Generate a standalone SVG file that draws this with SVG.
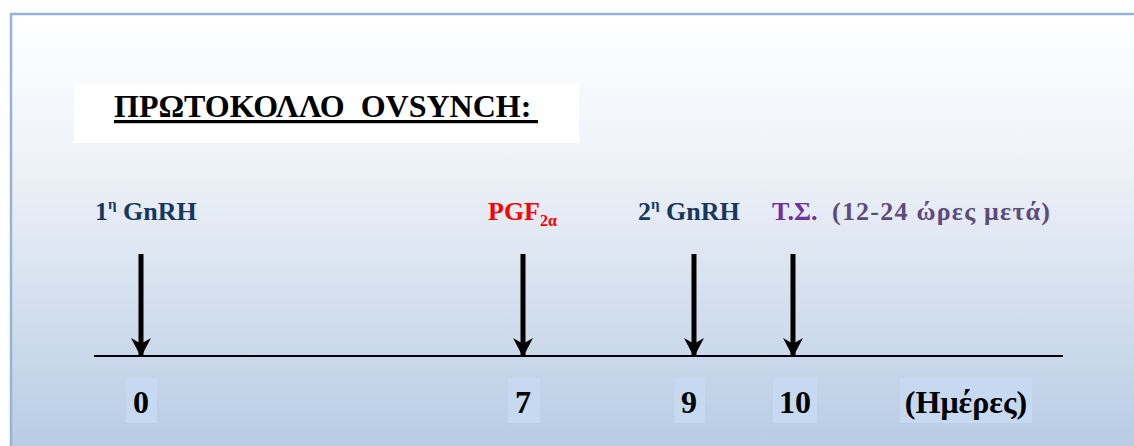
<svg xmlns="http://www.w3.org/2000/svg" width="1134" height="446" viewBox="0 0 1134 446">
  <defs>
    <linearGradient id="bg" x1="0" y1="0" x2="0" y2="1">
      <stop offset="0" stop-color="#ffffff"/>
      <stop offset="0.35" stop-color="#eef2f8"/>
      <stop offset="1" stop-color="#b8cce4"/>
    </linearGradient>
    <marker id="ah" markerUnits="userSpaceOnUse" markerWidth="20" markerHeight="20" viewBox="0 0 18 18" refX="17" refY="9" orient="auto">
      <path d="M0,0 L5,9 L0,18 L17,9 Z" fill="#000"/>
    </marker>
  </defs>
  <style>
    text { font-family: "Liberation Serif", "Times New Roman", serif; font-weight: bold; }
    .lbl { font-size: 26px; }
    .num { font-size: 32px; fill: #000; }
    .navy { fill: #17375e; }
    .numbox { fill: #c6d9f1; }
    .arrow { stroke: #000; stroke-width: 5; fill: none; }
  </style>
  <rect x="0" y="0" width="1134" height="446" fill="#ffffff"/>
  <rect x="11" y="14" width="1123" height="432" fill="url(#bg)"/>
  <path d="M11,446 V14 H1134" fill="none" stroke="#95b3d7" stroke-width="2.5"/>

  <g id="title">
    <rect x="74" y="83" width="505" height="60" fill="#ffffff"/>
    <text x="114" y="117" font-size="32" fill="#000" xml:space="preserve">ΠΡΩΤΟΚΟΛΛΟ  OVSYNCH:</text>
    <rect x="114" y="120" width="424" height="3.2" fill="#000"/>
  </g>

  <g id="label-gnrh1">
    <text class="lbl navy" x="95" y="220">1<tspan font-size="15" dy="-11">η</tspan><tspan dy="11"> GnRH</tspan></text>
  </g>
  <g id="label-pgf">
    <text class="lbl" x="488" y="220" fill="#ff0000">PGF<tspan font-size="16" dy="6">2α</tspan></text>
  </g>
  <g id="label-gnrh2">
    <text class="lbl navy" x="638" y="220">2<tspan font-size="15" dy="-11">η</tspan><tspan dy="11"> GnRH</tspan></text>
  </g>
  <g id="label-ts">
    <text class="lbl" x="772" y="220" fill="#7030a0">Τ.Σ.</text>
    <text class="lbl" x="832" y="220" font-size="27" fill="#604a7b" textLength="218" lengthAdjust="spacing">(12-24 ώρες μετά)</text>
  </g>

  <g id="connectors">
    <line x1="94" y1="356" x2="1063" y2="356" stroke="#000" stroke-width="2.2"/>
    <line class="arrow" x1="141" y1="254" x2="141" y2="357" marker-end="url(#ah)"/>
    <line class="arrow" x1="523" y1="254" x2="523" y2="357" marker-end="url(#ah)"/>
    <line class="arrow" x1="694" y1="254" x2="694" y2="357" marker-end="url(#ah)"/>
    <line class="arrow" x1="793" y1="254" x2="793" y2="357" marker-end="url(#ah)"/>
  </g>

  <g id="day-0">
    <rect class="numbox" x="126" y="378" width="31" height="45"/>
    <text class="num" x="141" y="413" text-anchor="middle">0</text>
  </g>
  <g id="day-7">
    <rect class="numbox" x="508" y="378" width="32" height="45"/>
    <text class="num" x="523" y="413" text-anchor="middle">7</text>
  </g>
  <g id="day-9">
    <rect class="numbox" x="674" y="378" width="31" height="45"/>
    <text class="num" x="689" y="413" text-anchor="middle">9</text>
  </g>
  <g id="day-10">
    <rect class="numbox" x="773" y="378" width="44" height="45"/>
    <text class="num" x="795" y="413" text-anchor="middle">10</text>
  </g>
  <g id="days-unit">
    <rect class="numbox" x="900" y="378" width="132" height="45"/>
    <text class="num" x="966" y="413" text-anchor="middle">(Ημέρες)</text>
  </g>
</svg>
